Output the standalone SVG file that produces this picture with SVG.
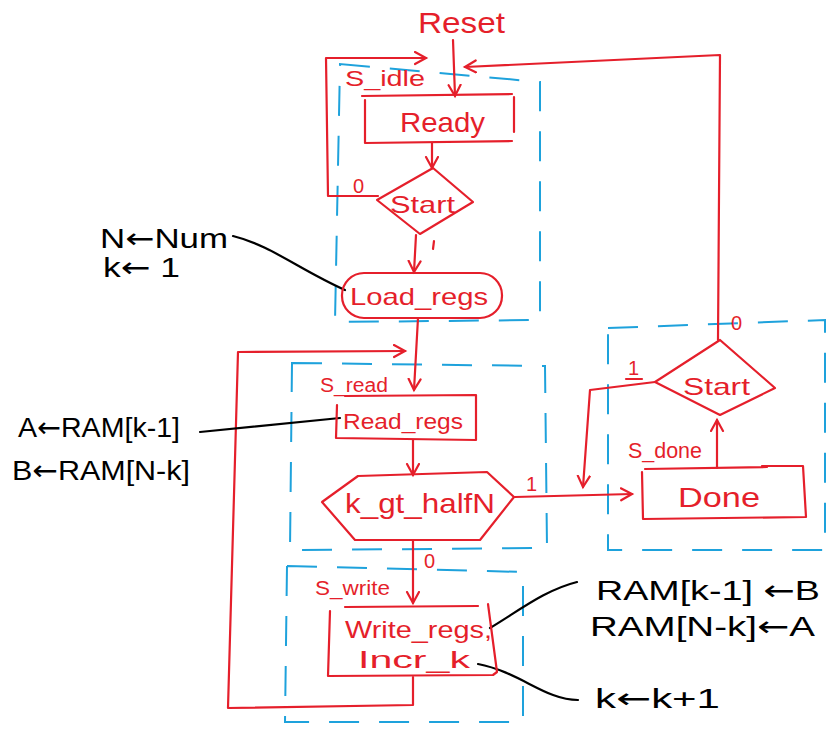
<svg xmlns="http://www.w3.org/2000/svg" width="827" height="729" viewBox="0 0 827 729">
<style>
.r{fill:none;stroke:#e51f2b;stroke-width:2.2;stroke-linecap:round;stroke-linejoin:round}
.b{fill:none;stroke:#1ea2dc;stroke-width:2;stroke-dasharray:30 20}
.k{fill:none;stroke:#000;stroke-width:2.2;stroke-linecap:round}
.tr{fill:#e51f2b;font-family:"Liberation Sans",Arial,sans-serif}
.tk{fill:#000;font-family:"Liberation Sans",Arial,sans-serif}
.ar{font-family:"DejaVu Sans",sans-serif}
</style>
<defs>
<marker id="a" markerUnits="userSpaceOnUse" markerWidth="16" markerHeight="16" refX="12" refY="7" orient="auto">
<path d="M1,1 L12,7 L1,13" fill="none" stroke="#e51f2b" stroke-width="2.2" stroke-linecap="round"/>
</marker>
</defs>
<rect width="827" height="729" fill="#fff"/>

<g id="states">
<path class="b" d="M340,64 L540,82 L540,320 L335,322 Z"/>
<path class="b" d="M292,363 L545,366 L547,548 L290,550 Z"/>
<path class="b" d="M287,566 L523,572 L523,722 L285,722 Z"/>
<path class="b" d="M608,328 L825,320 L825,550 L608,550 Z"/>
</g>

<g id="connectors">
<path class="r" d="M453,40 L455,96" marker-end="url(#a)"/>
<path class="r" d="M378,196 L328,196 L326,58 L426,58" marker-end="url(#a)"/>
<path class="r" d="M432,143 L432,168" marker-end="url(#a)"/>
<path class="r" d="M416,235 L414,272" marker-end="url(#a)"/>
<path class="r" d="M418,318 L414,390" marker-end="url(#a)"/>
<path class="r" d="M413,440 L413,475" marker-end="url(#a)"/>
<path class="r" d="M413,540 L413,603" marker-end="url(#a)"/>
<path class="r" d="M413,677 L413,705 L228,708 L238,352 L405,351" marker-end="url(#a)"/>
<path class="r" d="M515,497 L632,494" marker-end="url(#a)"/>
<path class="r" d="M717,468 L717,420" marker-end="url(#a)"/>
<path class="r" d="M655,382 L590,390 L583,487" marker-end="url(#a)"/>
<path class="r" d="M718,340 L720,55 L465,67" marker-end="url(#a)"/>
<path class="k" d="M233,236 C270,245 300,270 345,290"/>
<path class="k" d="M200,432 L340,418"/>
<path class="k" d="M490,628 C520,610 545,590 577,582"/>
<path class="k" d="M478,664 C520,672 545,700 578,700"/>
</g>

<g id="reset"><text class="tr" x="418" y="33" font-size="30" textLength="87" lengthAdjust="spacingAndGlyphs">Reset</text></g>

<g id="s_idle"><text class="tr" x="345" y="86" font-size="22" textLength="80" lengthAdjust="spacingAndGlyphs">S_idle</text></g>

<g id="ready">
<path class="r" d="M362,96 L512,94 M365,100 L365,143 L512,141 M514,97 L514,132"/>
<text class="tr" x="400" y="132" font-size="28" textLength="85" lengthAdjust="spacingAndGlyphs">Ready</text>
</g>

<g id="start1">
<path class="r" d="M433,168 L473,202 L420,234 L377,200 Z"/>
<text class="tr" x="390" y="213" font-size="24" textLength="65" lengthAdjust="spacingAndGlyphs">Start</text>
<text class="tr" x="353" y="193" font-size="20">0</text>
<path class="r" d="M434,241 L433,249"/>
</g>

<g id="load_regs">
<rect class="r" x="342" y="273" width="160" height="45" rx="22"/>
<text class="tr" x="350" y="305" font-size="24" textLength="138" lengthAdjust="spacingAndGlyphs">Load_regs</text>
</g>

<g id="note_load">
<text class="tk" x="100" y="248" font-size="28" textLength="128" lengthAdjust="spacingAndGlyphs">N<tspan class="ar">←</tspan>Num</text>
<text class="tk" x="103" y="277" font-size="28" textLength="77" lengthAdjust="spacingAndGlyphs">k<tspan class="ar">←</tspan> 1</text>
</g>

<g id="s_read"><text class="tr" x="320" y="392" font-size="20" textLength="68" lengthAdjust="spacingAndGlyphs">S_read</text></g>

<g id="read_regs">
<path class="r" d="M345,396 L476,395 L476,440 L336,438 L337,405"/>
<text class="tr" x="343" y="429" font-size="22" textLength="120" lengthAdjust="spacingAndGlyphs">Read_regs</text>
</g>

<g id="note_read">
<text class="tk" x="18" y="437" font-size="28" textLength="162" lengthAdjust="spacingAndGlyphs">A<tspan class="ar">←</tspan>RAM[k-1]</text>
<text class="tk" x="12" y="480" font-size="28" textLength="178" lengthAdjust="spacingAndGlyphs">B<tspan class="ar">←</tspan>RAM[N-k]</text>
</g>

<g id="k_gt_halfN">
<path class="r" d="M358,476 L487,472 L514,497 L480,540 L355,540 L322,502 Z"/>
<text class="tr" x="345" y="513" font-size="28" textLength="150" lengthAdjust="spacingAndGlyphs">k_gt_halfN</text>
<text class="tr" x="526" y="491" font-size="20">1</text>
<text class="tr" x="424" y="568" font-size="20">0</text>
</g>

<g id="s_write"><text class="tr" x="315" y="595" font-size="20" textLength="75" lengthAdjust="spacingAndGlyphs">S_write</text></g>

<g id="write_regs">
<path class="r" d="M345,607 L478,606 M488,604 L497,672 L493,675 L328,676 L330,611"/>
<text class="tr" x="345" y="638" font-size="24" textLength="147" lengthAdjust="spacingAndGlyphs">Write_regs,</text>
<text class="tr" x="358" y="668" font-size="24" textLength="112" lengthAdjust="spacingAndGlyphs">Incr_k</text>
</g>

<g id="note_write">
<text class="tk" x="596" y="600" font-size="28" textLength="224" lengthAdjust="spacingAndGlyphs">RAM[k-1] <tspan class="ar">←</tspan>B</text>
<text class="tk" x="590" y="636" font-size="28" textLength="225" lengthAdjust="spacingAndGlyphs">RAM[N-k]<tspan class="ar">←</tspan>A</text>
<text class="tk" x="595" y="708" font-size="28" textLength="125" lengthAdjust="spacingAndGlyphs">k<tspan class="ar">←</tspan>k+1</text>
</g>

<g id="s_done"><text class="tr" x="628" y="458" font-size="22" textLength="74" lengthAdjust="spacingAndGlyphs">S_done</text></g>

<g id="done">
<path class="r" d="M645,469 L767,467 M762,466 L803,466 L806,517 L643,519 L642,472"/>
<text class="tr" x="678" y="507" font-size="28" textLength="82" lengthAdjust="spacingAndGlyphs">Done</text>
</g>

<g id="start2">
<path class="r" d="M720,340 L775,388 L720,415 L655,382 Z"/>
<text class="tr" x="683" y="395" font-size="24" textLength="67" lengthAdjust="spacingAndGlyphs">Start</text>
<text class="tr" x="628" y="375" font-size="20">1</text>
<path class="r" d="M626,379 L642,379"/>
<text class="tr" x="731" y="330" font-size="20">0</text>
</g>
</svg>
